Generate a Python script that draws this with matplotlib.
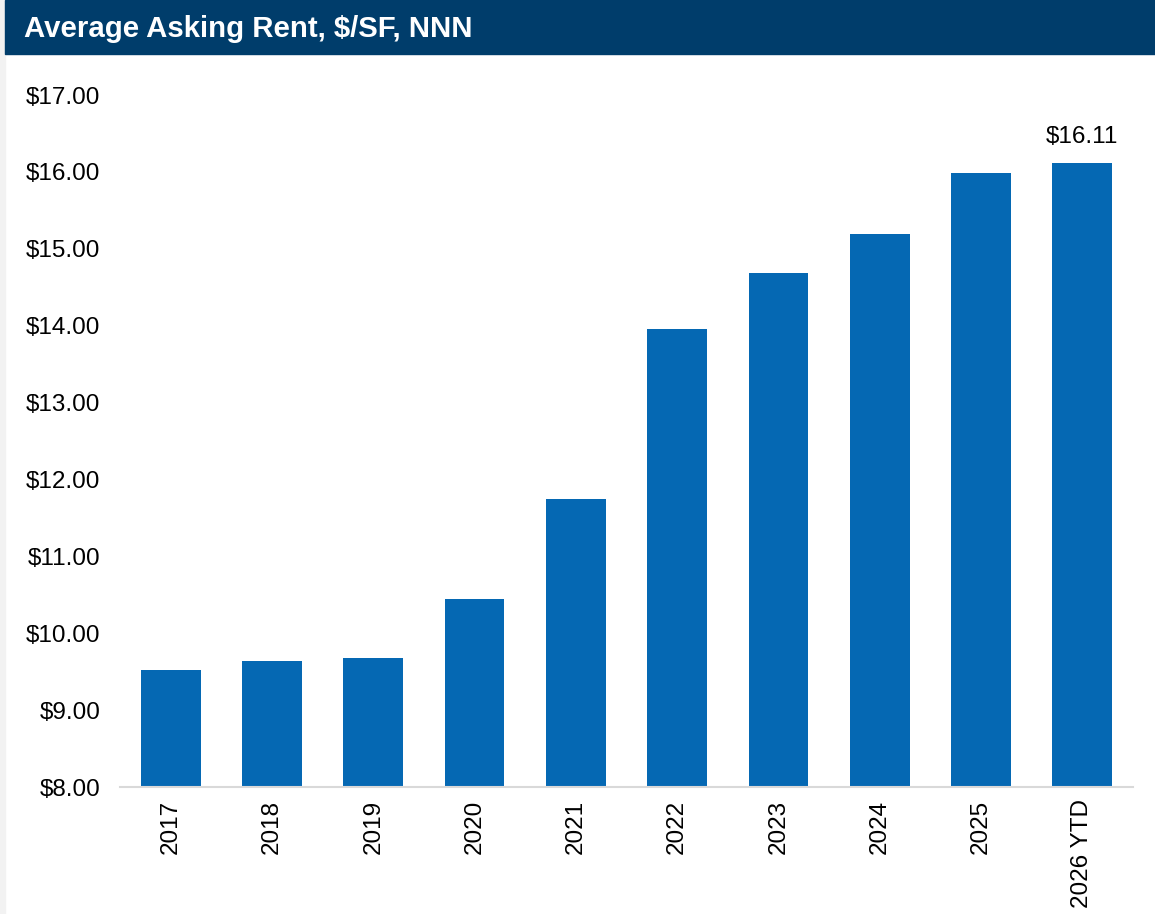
import matplotlib
matplotlib.use('Agg')
import matplotlib.pyplot as plt
from matplotlib.patches import Rectangle

years = ['2017', '2018', '2019', '2020', '2021', '2022', '2023', '2024', '2025', '2026 YTD']
rents = [9.52, 9.64, 9.68, 10.44, 11.75, 13.96, 14.68, 15.19, 15.99, 16.11]
y_ticks = [8, 9, 10, 11, 12, 13, 14, 15, 16, 17]

W, H = 1155, 914
plt.rcParams['font.family'] = ['Liberation Sans', 'DejaVu Sans']

fig = plt.figure(figsize=(W / 100, H / 100), dpi=100)
fig.patch.set_facecolor('white')

# light strip on the left edge and the title bar
fig.add_artist(Rectangle((0, 0), 5 / W, 1, transform=fig.transFigure, color='#f2f2f2', zorder=0))
fig.add_artist(Rectangle((5 / W, 1 - 54 / H), 1, 54 / H, transform=fig.transFigure, color='#003d6b', zorder=1))
fig.text(24 / W, 1 - 29 / H, 'Average Asking Rent, $/SF, NNN', color='white', fontsize=21.2,
         fontweight='bold', va='center', ha='left')

ax = fig.add_axes([120 / W, 1 - 787 / H, (1133 - 120) / W, (787 - 95) / H])
x = range(len(years))
ax.bar(x, rents, width=0.59, color='#0568b3', zorder=2)
ax.set_xlim(-0.5, len(years) - 0.5)
ax.set_ylim(8, 17)
ax.set_yticks(y_ticks)
ax.set_yticklabels(['${:.2f}'.format(v) for v in y_ticks], fontsize=17.5)
ax.set_xticks(list(x))
ax.set_xticklabels(years, rotation=90, fontsize=17.5)
ax.tick_params(axis='both', length=0)
ax.tick_params(axis='y', pad=14)
ax.tick_params(axis='x', pad=9)

for s in ['top', 'right', 'left']:
    ax.spines[s].set_visible(False)
ax.spines['bottom'].set_color('#d9d9d9')
ax.spines['bottom'].set_linewidth(1.5)

ax.text(len(years) - 1, rents[-1] + 0.2, '${:.2f}'.format(rents[-1]), ha='center', va='bottom', fontsize=17.5)

fig.savefig('out.png', dpi=100)
